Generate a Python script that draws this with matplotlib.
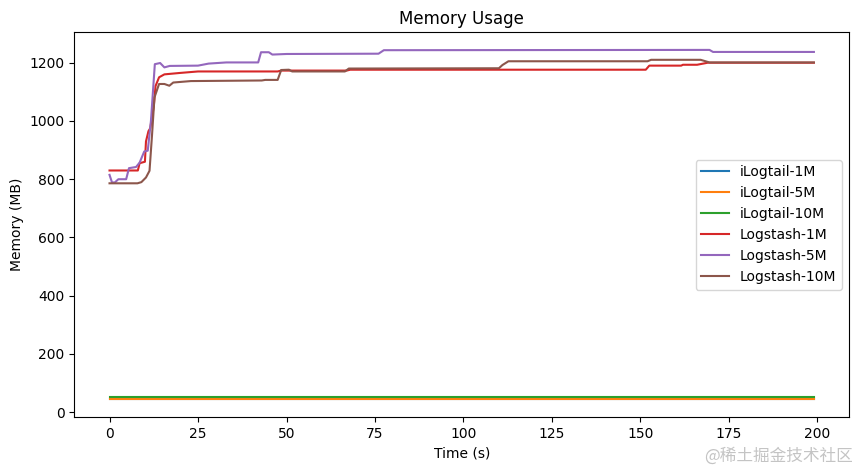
import matplotlib
matplotlib.use("Agg")
import matplotlib.pyplot as plt

# iLogtail series (time in s, memory in MB)
ilog_1m_t = [0, 50, 100, 150, 199]
ilog_1m_v = [44, 44, 44, 44, 44]
ilog_5m_t = [0, 50, 100, 150, 199]
ilog_5m_v = [46, 46, 46, 46, 46]
ilog_10m_t = [0, 50, 100, 150, 199]
ilog_10m_v = [53, 53, 53, 53, 53]

# Logstash series
ls_1m_t = [0, 8, 8.5, 10, 10.3, 11, 11.5, 12.5, 13, 14, 15.5, 20, 25, 47.5, 48.5,
           67, 68, 151.5, 152.5, 161.5, 162, 166, 169, 199]
ls_1m_v = [830, 830, 855, 860, 930, 965, 975, 1050, 1120, 1150, 1160, 1165, 1170, 1170, 1173,
           1173, 1176, 1176, 1190, 1190, 1193, 1193, 1200, 1200]

ls_5m_t = [0, 0.7, 1.5, 2.5, 4.7, 5.5, 7.5, 8.5, 9.8, 10.8, 11.7, 12.8, 14.3, 15.5, 17,
           25, 28, 33, 42, 42.8, 45, 46, 50, 76, 77.5, 169.5, 170.5, 199]
ls_5m_v = [815, 789, 789, 800, 800, 838, 842, 857, 895, 898, 1000, 1195, 1199, 1184, 1189,
           1190, 1197, 1201, 1201, 1236, 1236, 1228, 1230, 1231, 1243, 1244, 1237, 1237]

ls_10m_t = [0, 7.9, 9, 10.3, 11.3, 12, 12.7, 14, 15.5, 16.9, 18, 23, 43, 44, 47.5, 48.5,
            50.7, 51.6, 66.5, 67.6, 110, 111, 112.7, 152, 153, 167, 169.5, 199]
ls_10m_v = [786, 786, 790, 806, 829, 950, 1081, 1127, 1127, 1121, 1132, 1137, 1139, 1141, 1141, 1175,
            1176, 1170, 1170, 1180, 1181, 1192, 1205, 1205, 1210, 1210, 1201, 1201]

series = [
    ("iLogtail-1M", ilog_1m_t, ilog_1m_v),
    ("iLogtail-5M", ilog_5m_t, ilog_5m_v),
    ("iLogtail-10M", ilog_10m_t, ilog_10m_v),
    ("Logstash-1M", ls_1m_t, ls_1m_v),
    ("Logstash-5M", ls_5m_t, ls_5m_v),
    ("Logstash-10M", ls_10m_t, ls_10m_v),
]

fig, ax = plt.subplots(figsize=(8.59, 4.70), dpi=100)
fig.subplots_adjust(left=0.0865, right=0.9885, top=0.931, bottom=0.113)

for name, t, v in series:
    ax.plot(t, v, label=name)

ax.set_title("Memory Usage")
ax.set_xlabel("Time (s)")
ax.set_ylabel("Memory (MB)")
ax.legend(loc="center right")

fig.text(0.993, 0.012, "@稀土掘金技术社区", ha="right", va="bottom", fontsize=12,
         color="#c4c4c4", family=["Noto Sans CJK SC", "DejaVu Sans"])

fig.savefig("out.png", dpi=100)
